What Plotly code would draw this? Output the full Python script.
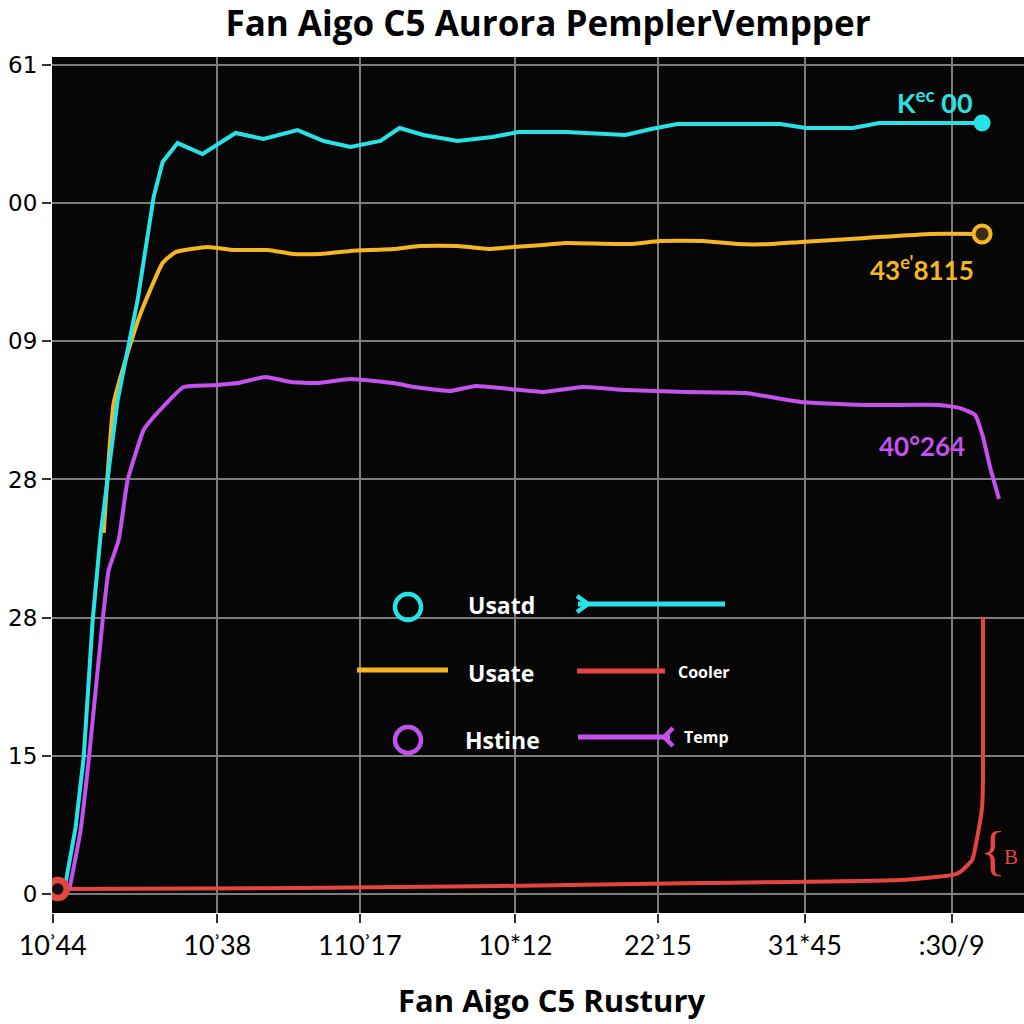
import plotly.graph_objects as go

# ---------------- data ----------------
x_tick_vals = [0, 11.2, 20.9, 31.5, 41.2, 51.2, 61.2]
x_tick_text = ["10ʾ44", "10ʾ38", "110ʾ17", "10*12", "22ʾ15", "31*45", ":30/9"]
y_tick_vals = [0, 10, 20, 30, 40, 50, 60]
y_tick_text = ["0", "15", "28", "28", "09", "00", "61"]

cyan_x = [0.68, 0.88, 1.56, 2.11, 2.72, 3.27, 4.42, 5.78, 6.87, 7.48, 8.50, 10.20, 12.45, 14.35,
          16.67, 18.44, 20.27, 22.31, 23.61, 25.24, 27.55, 29.93, 31.70, 34.90, 38.98, 40.75,
          42.52, 49.52, 51.29, 54.49, 56.26, 63.27]
cyan_y = [0.36, 0.80, 4.85, 9.92, 19.83, 26.13, 35.75, 42.99, 50.45, 52.98, 54.35, 53.56, 55.08, 54.64,
          55.29, 54.50, 54.06, 54.50, 55.44, 54.93, 54.50, 54.79, 55.15, 55.15, 54.93, 55.37,
          55.73, 55.73, 55.44, 55.44, 55.80, 55.80]

yellow_x = [3.47, 4.15, 5.10, 5.99, 7.48, 8.37, 10.54, 12.31, 14.63, 16.39, 18.23, 20.27, 23.20,
            24.97, 27.55, 29.66, 31.36, 33.40, 34.90, 39.25, 41.36, 44.29, 46.60, 48.91, 50.95,
            55.37, 59.73, 63.27]
yellow_y = [26.13, 35.54, 39.15, 42.05, 45.67, 46.46, 46.83, 46.61, 46.61, 46.32, 46.32, 46.54, 46.68,
            46.90, 46.90, 46.68, 46.83, 46.97, 47.12, 47.04, 47.26, 47.26, 47.04, 47.04, 47.19,
            47.48, 47.77, 47.77]

purple_x = [1.09, 1.22, 1.90, 2.45, 3.40, 3.81, 4.49, 5.10, 6.19, 6.87, 8.91, 11.22, 12.59, 14.49,
            16.19, 18.03, 20.27, 23.20, 24.63, 27.01, 28.78, 31.09, 33.40, 36.05, 38.98, 43.06,
            47.14, 50.95, 55.37, 60.34, 61.77, 62.79, 63.33, 63.81, 64.42]
purple_y = [0.29, 0.80, 4.63, 9.70, 19.83, 23.45, 25.62, 29.96, 33.58, 34.52, 36.69, 36.84, 36.98, 37.42,
            37.06, 36.98, 37.27, 36.98, 36.69, 36.40, 36.77, 36.55, 36.33, 36.69, 36.48, 36.33,
            36.26, 35.61, 35.39, 35.39, 35.17, 34.67, 33.08, 30.90, 28.59]

red_x = [0.34, 16.87, 30.48, 44.08, 57.69, 61.29, 61.77, 62.59, 62.99, 63.27, 63.33, 63.33]
red_y = [0.36, 0.43, 0.58, 0.80, 1.01, 1.38, 1.59, 2.46, 4.41, 6.30, 8.25, 20.05]

CYAN = "#27E3E8"
YELLOW = "#F4B723"
PURPLE = "#C552EE"
RED = "#E5443F"

# ---------------- figure ----------------
fig = go.Figure()

fig.add_trace(go.Scatter(x=red_x, y=red_y, mode="lines", line=dict(color=RED, width=4, shape="spline", smoothing=0.5),
                         showlegend=False))
fig.add_trace(go.Scatter(x=purple_x, y=purple_y, mode="lines", line=dict(color=PURPLE, width=4, shape="spline", smoothing=0.4),
                         showlegend=False))
fig.add_trace(go.Scatter(x=yellow_x, y=yellow_y, mode="lines", line=dict(color=YELLOW, width=4, shape="spline", smoothing=0.4),
                         showlegend=False))
fig.add_trace(go.Scatter(x=cyan_x, y=cyan_y, mode="lines", line=dict(color=CYAN, width=4),
                         showlegend=False))

# end / start markers
fig.add_trace(go.Scatter(x=[cyan_x[-1]], y=[cyan_y[-1]], mode="markers",
                         marker=dict(color=CYAN, size=17, line=dict(width=0)), showlegend=False))
fig.add_trace(go.Scatter(x=[yellow_x[-1]], y=[yellow_y[-1]], mode="markers",
                         marker=dict(color="#3b2c12", size=17, line=dict(color=YELLOW, width=4)), showlegend=False))
fig.add_trace(go.Scatter(x=[red_x[0]], y=[red_y[0]], mode="markers",
                         marker=dict(color="#111111", size=18, line=dict(color=RED, width=6.5)), showlegend=False))

# ---------------- layout helpers (pixel -> paper) ----------------
L, R, T, B = 52, 1024, 57, 913
def PX(x):
    return (x - L) / (R - L)
def PY(y):
    return (B - y) / (B - T)

shapes = []
# legend circles
for cx, cy, col in [(408, 607, CYAN), (408, 740, PURPLE)]:
    shapes.append(dict(type="circle", xref="paper", yref="paper",
                       x0=PX(cx - 13), x1=PX(cx + 13), y0=PY(cy + 13), y1=PY(cy - 13),
                       line=dict(color=col, width=4.5)))
# legend lines
for x0, x1, yy, col in [(578, 725, 604, CYAN), (357, 448, 670, YELLOW), (577, 665, 671, RED), (578, 670, 737, PURPLE)]:
    shapes.append(dict(type="line", xref="paper", yref="paper", x0=PX(x0), x1=PX(x1), y0=PY(yy), y1=PY(yy),
                       line=dict(color=col, width=5)))
# fork heads
shapes.append(dict(type="path", xref="paper", yref="paper",
                   path=f"M {PX(577)} {PY(596)} L {PX(588)} {PY(604)} L {PX(577)} {PY(612)}",
                   line=dict(color=CYAN, width=4.5)))
shapes.append(dict(type="path", xref="paper", yref="paper",
                   path=f"M {PX(673)} {PY(728)} L {PX(664)} {PY(737)} L {PX(673)} {PY(746)}",
                   line=dict(color=PURPLE, width=4.5)))

ann = []
def txt(x, y, s, size, color, family="Open Sans", bold=True, xanchor="center"):
    ann.append(dict(xref="paper", yref="paper", x=PX(x), y=PY(y), text=(f"<b>{s}</b>" if bold else s),
                    showarrow=False, xanchor=xanchor, yanchor="middle",
                    font=dict(size=size, color=color, family=family)))

txt(501, 605, "Usatd", 23, "white")
txt(501, 673, "Usate", 23, "white")
txt(502, 740, "Hstine", 23, "white")
txt(704, 672, "Cooler", 16, "white")
txt(706, 737, "Temp", 16, "white")

txt(935, 101, "K<sup>ec</sup> 00", 27, CYAN, family="Lato")
txt(922, 268, "43<sup>e'</sup>8115", 26, YELLOW, family="Lato")
txt(922, 446, "40°264", 26, PURPLE, family="Lato")
txt(993, 851, "{", 54, RED, family="Liberation Serif", bold=False)
txt(1011, 857, "B", 21, RED, family="Liberation Serif", bold=False)

# x axis title
ann.append(dict(xref="paper", yref="paper", x=PX(551), y=PY(1000), text="<b>Fan Aigo C5 Rustury</b>",
                showarrow=False, xanchor="center", yanchor="middle",
                font=dict(size=31, color="black", family="Open Sans")))

fig.update_layout(
    width=1024, height=1024,
    margin=dict(l=L, r=1024 - R, t=T, b=1024 - B, pad=0, autoexpand=False),
    paper_bgcolor="white", plot_bgcolor="#060606",
    title=dict(text="<b>Fan Aigo C5 Aurora PemplerVempper</b>", x=548 / 1024, xref="container", xanchor="center",
               y=1 - 24 / 1024, yref="container", yanchor="middle",
               font=dict(size=35, color="black", family="Open Sans")),
    shapes=shapes, annotations=ann,
    showlegend=False,
)
fig.update_xaxes(range=[-0.05, (R - L) / 14.7], tickvals=x_tick_vals, ticktext=x_tick_text,
                 showgrid=True, gridcolor="#7c7c7c", gridwidth=1.5, zeroline=False, automargin=False,
                 ticks="outside", ticklen=9, tickwidth=2, tickcolor="#333333",
                 tickfont=dict(size=27, color="black", family="Lato"), showline=False)
fig.update_yaxes(range=[(894 - B) / 13.817, (894 - T) / 13.817], tickvals=y_tick_vals, ticktext=y_tick_text,
                 showgrid=True, gridcolor="#7c7c7c", gridwidth=1.5, zeroline=False, automargin=False,
                 ticks="outside", ticklen=9, tickwidth=2, tickcolor="#333333",
                 tickfont=dict(size=23, color="black", family="DejaVu Sans"), showline=False)

fig.write_html("out.html", config={"displayModeBar": False},
               post_script="document.body.style.margin='0';document.body.style.overflow='hidden';")
